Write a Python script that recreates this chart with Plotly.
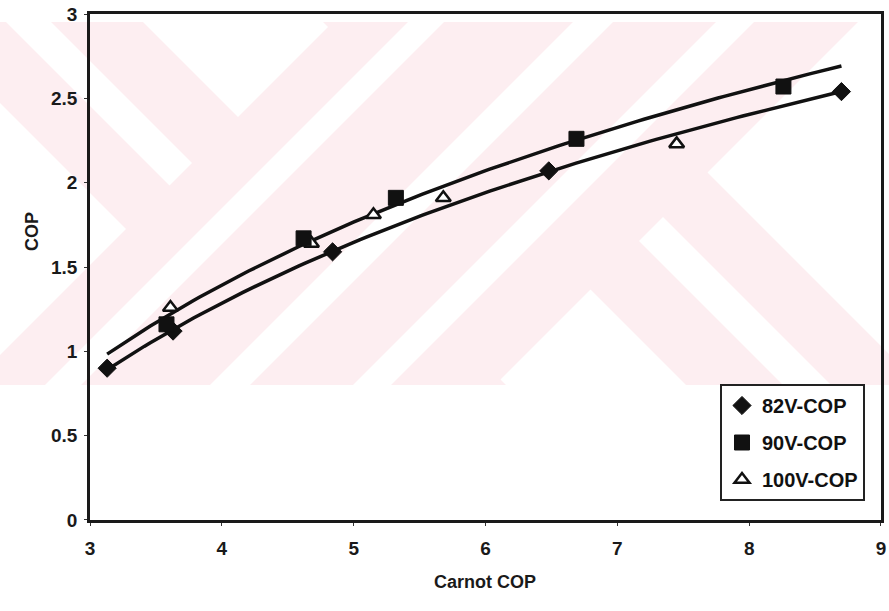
import numpy as np
import plotly.graph_objects as go

# ---------------- data ----------------
carnot_82 = [3.13, 3.63, 4.84, 6.48, 8.70]
cop_82 = [0.90, 1.12, 1.59, 2.07, 2.54]
carnot_90 = [3.58, 4.62, 5.32, 6.69, 8.26]
cop_90 = [1.16, 1.67, 1.91, 2.26, 2.57]
carnot_100 = [3.61, 4.68, 5.15, 5.68, 7.45]
cop_100 = [1.26, 1.64, 1.81, 1.91, 2.23]
series_names = ["82V-COP", "90V-COP", "100V-COP"]
x_ticks = [3, 4, 5, 6, 7, 8, 9]
y_ticks = [0, 0.5, 1, 1.5, 2, 2.5, 3]
y_tick_text = ["0", "0.5", "1", "1.5", "2", "2.5", "3"]

# ---------------- logarithmic trendlines (fitted to the data) ----------------
def log_fit(xs, ys, xr):
    b, a = np.polyfit(np.log(xs), ys, 1)
    return a + b * np.log(xr)

x_line = np.linspace(min(carnot_82), max(carnot_82), 120)
trend_82 = log_fit(carnot_82, cop_82, x_line)
trend_90 = log_fit(carnot_90, cop_90, x_line)

# ---------------- figure geometry ----------------
W, H = 889, 611
L, R, T, B = 90, 8, 14, 91
PW, PH = W - L - R, H - T - B

def to_paper(px, py):
    return (px - L) / PW, (H - B - py) / PH

# ---------------- faint pink watermark (scan background) ----------------
band_top, band_bot = 22, 385
def clip(poly, x0, x1, y0, y1):
    def clip_edge(pts, inside, inter):
        out = []
        n = len(pts)
        for i in range(n):
            cur, prev = pts[i], pts[i - 1]
            if inside(cur):
                if not inside(prev):
                    out.append(inter(prev, cur))
                out.append(cur)
            elif inside(prev):
                out.append(inter(prev, cur))
        return out
    def ix(xc):
        return lambda p, q: (xc, p[1] + (q[1] - p[1]) * (xc - p[0]) / (q[0] - p[0]))
    def iy(yc):
        return lambda p, q: (p[0] + (q[0] - p[0]) * (yc - p[1]) / (q[1] - p[1]), yc)
    pts = poly
    for inside, inter in [(lambda p: p[0] >= x0, ix(x0)), (lambda p: p[0] <= x1, ix(x1)),
                          (lambda p: p[1] >= y0, iy(y0)), (lambda p: p[1] <= y1, iy(y1))]:
        if not pts:
            break
        pts = clip_edge(pts, inside, inter)
    return pts

BIG = 4000
end_s = [(-BIG, 355), (880, BIG)]
end_d = [(103, BIG), (-29, 16), (-301, -121), (-446, -398), (-BIG, -535)]
mid_s = [(430, 466), (595, 635), (738, 776)]
white_cells = [(s, d) for s in end_s for d in end_d] + [(s, (-BIG, BIG)) for s in mid_s]

shapes = []
x0p, y0p = to_paper(0, band_bot)
x1p, y1p = to_paper(W, band_top)
shapes.append(dict(type="rect", xref="paper", yref="paper", x0=x0p, x1=x1p, y0=y0p, y1=y1p,
                   fillcolor="#fdeef1", line=dict(width=0), layer="below"))
for (s1, s2), (d1, d2) in white_cells:
    rh = [((s - d) / 2, (s + d) / 2) for s, d in [(s1, d1), (s1, d2), (s2, d2), (s2, d1)]]
    poly = clip(rh, 0, W, band_top, band_bot)
    if len(poly) < 3:
        continue
    pp = [to_paper(px, py) for px, py in poly]
    path = "M " + " L ".join(f"{a:.5f},{b:.5f}" for a, b in pp) + " Z"
    shapes.append(dict(type="path", xref="paper", yref="paper", path=path,
                       fillcolor="white", line=dict(width=0), layer="below"))

# ---------------- traces ----------------
fig = go.Figure()
ink = "#111111"
fig.add_trace(go.Scatter(x=x_line, y=trend_82, mode="lines", line=dict(color=ink, width=3.5),
                         showlegend=False, hoverinfo="skip"))
fig.add_trace(go.Scatter(x=x_line, y=trend_90, mode="lines", line=dict(color=ink, width=3.5),
                         showlegend=False, hoverinfo="skip"))
fig.add_trace(go.Scatter(x=carnot_100, y=cop_100, mode="markers", name="<b>" + series_names[2] + "</b>",
                         marker=dict(symbol="triangle-up", size=13, color="white",
                                     line=dict(color=ink, width=2.5)),
                         legendgroup="c", legendrank=3))
fig.add_trace(go.Scatter(x=carnot_82, y=cop_82, mode="markers", name="<b>" + series_names[0] + "</b>",
                         marker=dict(symbol="diamond", size=14, color=ink, line=dict(color=ink, width=1)),
                         legendgroup="a", legendrank=1))
fig.add_trace(go.Scatter(x=carnot_90, y=cop_90, mode="markers", name="<b>" + series_names[1] + "</b>",
                         marker=dict(symbol="square", size=15, color=ink, line=dict(color=ink, width=1)),
                         legendgroup="b", legendrank=2))

font_family = "Arial, Liberation Sans, sans-serif"
axis_common = dict(showline=True, linecolor="#1a1a1a", linewidth=2.5, mirror=True,
                   showgrid=False, zeroline=False, ticks="outside", ticklen=3, automargin=False,
                   tickcolor="#333", tickfont=dict(family=font_family, size=19, color="#1a1a1a",
                                                   weight="bold"))
fig.update_xaxes(range=[3 - 1e-4, 9 + 1e-4], tickvals=x_ticks, ticklabelstandoff=6, **axis_common)
fig.update_yaxes(range=[0 - 5e-5, 3 + 5e-5], tickvals=y_ticks, ticktext=y_tick_text,
                 ticklabelstandoff=3, **axis_common)

lx, ly = to_paper(865, 384)
ax_, ay_ = to_paper(20, 232)
bx_, by_ = to_paper(485, 594)
fig.update_layout(
    template="none",
    width=W, height=H,
    margin=dict(l=L, r=R, t=T, b=B, autoexpand=False),
    paper_bgcolor="white", plot_bgcolor="rgba(0,0,0,0)",
    shapes=shapes,
    font=dict(family=font_family, color="#111"),
    legend=dict(x=lx, y=ly, xanchor="right", yanchor="top", bgcolor="white",
                bordercolor="#222", borderwidth=2, tracegroupgap=8,
                font=dict(family=font_family, size=20, color="#111"), itemwidth=30),
    annotations=[
        dict(text="<b>COP</b>", xref="paper", yref="paper", x=ax_, y=ay_, showarrow=False,
             textangle=-90, font=dict(family=font_family, size=18, color="#1a1a1a")),
        dict(text="<b>Carnot COP</b>", xref="paper", yref="paper", x=bx_, y=by_, showarrow=False,
             font=dict(family=font_family, size=18, color="#1a1a1a")),
    ],
)

fig.write_html("out.html", config={"displayModeBar": False},
               post_script="document.body.style.margin='0';document.body.style.overflow='hidden';")
